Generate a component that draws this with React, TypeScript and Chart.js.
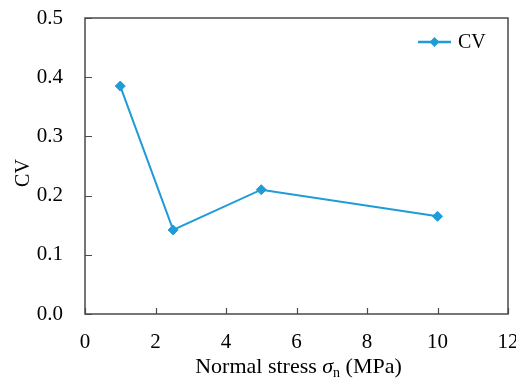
import { useEffect, useRef } from 'react';
import { Chart, registerables } from 'chart.js';

Chart.register(...registerables);

const seriesName = 'CV';
const normalStress = [1, 2.5, 5, 10];
const cvValues = [0.385, 0.142, 0.21, 0.165];
const xTickValues = [0, 2, 4, 6, 8, 10, 12];
const yTickValues = [0, 0.1, 0.2, 0.3, 0.4, 0.5];
const yAxisTitle = 'CV';
const xTitleParts = [
  { text: 'Normal stress ', style: 'normal' },
  { text: 'σ', style: 'italic' },
  { text: 'n', style: 'sub' },
  { text: ' (MPa)', style: 'normal' },
];

const FONT = '"Liberation Serif", "Times New Roman", serif';
const LINE_COLOR = '#1f9bd7';
const AXIS_COLOR = '#4a4a4a';

const framePlugin = {
  id: 'frameTicks',
  afterDraw(chart: any) {
    const { ctx, chartArea: a } = chart;
    const xs = chart.scales.x;
    const ys = chart.scales.y;
    ctx.save();
    ctx.strokeStyle = AXIS_COLOR;
    ctx.lineWidth = 1.5;
    ctx.strokeRect(a.left, a.top, a.right - a.left, a.bottom - a.top);
    ctx.beginPath();
    xTickValues.forEach((v) => {
      const px = Math.round(xs.getPixelForValue(v)) + 0.5;
      ctx.moveTo(px, a.bottom);
      ctx.lineTo(px, a.bottom - 6);
    });
    yTickValues.forEach((v) => {
      const py = Math.round(ys.getPixelForValue(v)) + 0.5;
      ctx.moveTo(a.left, py);
      ctx.lineTo(a.left + 7, py);
    });
    ctx.lineWidth = 1.2;
    ctx.stroke();
    ctx.restore();
  },
};

const legendPlugin = {
  id: 'cvLegend',
  afterDraw(chart: any) {
    const { ctx } = chart;
    const ds = chart.data.datasets[0];
    const y = 42;
    const x0 = 418;
    const x1 = 451;
    ctx.save();
    ctx.strokeStyle = ds.borderColor;
    ctx.lineWidth = 2.5;
    ctx.beginPath();
    ctx.moveTo(x0, y);
    ctx.lineTo(x1, y);
    ctx.stroke();
    const cx = (x0 + x1) / 2;
    const r = 5;
    ctx.fillStyle = ds.pointBackgroundColor;
    ctx.beginPath();
    ctx.moveTo(cx, y - r);
    ctx.lineTo(cx + r, y);
    ctx.lineTo(cx, y + r);
    ctx.lineTo(cx - r, y);
    ctx.closePath();
    ctx.fill();
    ctx.fillStyle = '#000';
    ctx.font = `20px ${FONT}`;
    ctx.textAlign = 'left';
    ctx.textBaseline = 'middle';
    ctx.fillText(ds.label, 458, y + 1);
    ctx.restore();
  },
};

const titlesPlugin = {
  id: 'axisTitles',
  afterDraw(chart: any) {
    const { ctx, chartArea: a } = chart;
    const size = 22;
    const fontFor = (style: string) =>
      style === 'italic'
        ? `italic ${size}px ${FONT}`
        : style === 'sub'
        ? `${Math.round(size * 0.65)}px ${FONT}`
        : `${size}px ${FONT}`;
    ctx.save();
    const widths = xTitleParts.map((p) => {
      ctx.font = fontFor(p.style);
      return ctx.measureText(p.text).width;
    });
    const total = widths.reduce((s, w) => s + w, 0);
    let x = (a.left + a.right) / 2 + 2 - total / 2;
    const baseline = 373;
    ctx.fillStyle = '#000';
    ctx.textAlign = 'left';
    ctx.textBaseline = 'alphabetic';
    xTitleParts.forEach((p, i) => {
      ctx.font = fontFor(p.style);
      ctx.fillText(p.text, x, p.style === 'sub' ? baseline + 4 : baseline);
      x += widths[i];
    });

    // y-axis title
    ctx.translate(24, 173);
    ctx.rotate(-Math.PI / 2);
    ctx.font = `20px ${FONT}`;
    ctx.textAlign = 'center';
    ctx.textBaseline = 'middle';
    ctx.fillText(yAxisTitle, 0, 0);
    ctx.restore();
  },
};

export default function App() {
  const ref = useRef<HTMLCanvasElement>(null);
  useEffect(() => {
    if (!ref.current) return;
    const chart = new Chart(ref.current, {
      type: 'line',
      data: {
        datasets: [
          {
            label: seriesName,
            data: normalStress.map((x, i) => ({ x, y: cvValues[i] })),
            borderColor: LINE_COLOR,
            backgroundColor: LINE_COLOR,
            pointBackgroundColor: LINE_COLOR,
            pointBorderColor: LINE_COLOR,
            pointStyle: 'rectRot',
            pointRadius: 5,
            pointBorderWidth: 1,
            borderWidth: 2,
            tension: 0,
            fill: false,
          },
        ],
      },
      options: {
        responsive: false,
        animation: false,
        events: [],
        layout: { padding: { top: 18, right: 8, left: 0, bottom: 0 } },
        plugins: {
          legend: { display: false },
          tooltip: { enabled: false },
        },
        scales: {
          x: {
            type: 'linear',
            min: 0,
            max: 12,
            afterBuildTicks: (s: any) => {
              s.ticks = xTickValues.map((v) => ({ value: v }));
            },
            ticks: {
              color: '#000',
              font: { family: FONT, size: 21 },
              padding: 16,
              maxRotation: 0,
            },
            grid: { display: false, drawTicks: false },
            border: { display: false },
            afterFit: (s: any) => {
              s.height = 64;
              s.paddingLeft = 0;
              s.paddingRight = 0;
            },
          },
          y: {
            type: 'linear',
            min: 0,
            max: 0.5,
            afterBuildTicks: (s: any) => {
              s.ticks = yTickValues.map((v) => ({ value: v }));
            },
            ticks: {
              color: '#000',
              font: { family: FONT, size: 21 },
              padding: 22,
              callback: (v: any) => Number(v).toFixed(1),
            },
            grid: { display: false, drawTicks: false },
            border: { display: false },
            title: { display: false },
            afterFit: (s: any) => {
              s.width = 85;
              s.paddingTop = 0;
              s.paddingBottom = 0;
            },
          },
        },
      },
      plugins: [framePlugin, legendPlugin, titlesPlugin],
    });
    return () => chart.destroy();
  }, []);
  return (
    <div style={{ position: 'fixed', left: 0, top: 0, width: 516, height: 378, background: '#fff' }}>
      <canvas ref={ref} width={516} height={378} style={{ display: 'block', width: 516, height: 378 }} />
    </div>
  );
}
